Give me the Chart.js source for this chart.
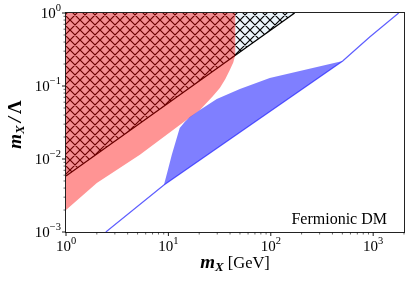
<!DOCTYPE html>
<html>
<head>
<meta charset="utf-8">
<script src="https://cdn.jsdelivr.net/npm/chart.js@4.4.0/dist/chart.umd.min.js"></script>
<style>
  html, body { margin:0; padding:0; background:#fff; }
  #wrap { width:415px; height:283px; }
</style>
</head>
<body>
<div id="wrap"><canvas id="c" width="415" height="283"></canvas></div>
<script>
// red excluded region (lower edge, then up the right side and back along the top)
const redX = [1, 2, 5.27, 11.1, 20.3, 27, 31.8, 36, 39.8, 43, 44.8, 45, 1];
const redY = [0.002, 0.0047, 0.0114, 0.0249, 0.0469, 0.072, 0.094, 0.125, 0.166, 0.21, 0.26, 1, 1];
// hatched region above the black line
const hatchX = [1, 171, 1];
const hatchY = [0.00585, 1, 1];
const edgeX = [1, 171];
const edgeY = [0.00585, 1];
// blue band: upper edge, closed back to its start
const blueX = [9.04, 9.9, 10.8, 12.9, 14.5, 16.2, 20.3, 29.7, 49.9, 97.7, 504, 9.04];
const blueY = [0.0044, 0.0071, 0.0114, 0.0266, 0.0325, 0.0376, 0.0469, 0.0664, 0.091, 0.129, 0.22, 0.0044];
// blue line
const lineX = [2.45, 9.04, 504, 925, 1774];
const lineY = [0.001, 0.0044, 0.22, 0.47, 1];

// axes
const xMajor = [1, 10, 100, 1000];
const xExp = ['0', '1', '2', '3'];
const yMajor = [1, 0.1, 0.01, 0.001];
const yExp = ['0', '\u22121', '\u22122', '\u22123'];
const note = 'Fermionic DM';

const pts = (xs, ys) => xs.map((x, i) => ({ x, y: ys[i] }));

function minors(lo, hi) {
  const out = [];
  for (let d = lo; d < hi; d *= 10)
    for (let k = 2; k <= 9; k++) if (d * k <= hi * 1.0001) out.push(d * k);
  return out;
}

function hatchPattern(ctx) {
  const s = 10, c = document.createElement('canvas');
  c.width = c.height = s;
  const g = c.getContext('2d');
  g.fillStyle = '#ebf5fc';
  g.fillRect(0, 0, s, s);
  g.strokeStyle = '#000';
  g.lineWidth = 1.2;
  g.beginPath();
  for (const k of [-s, 0, s]) {
    g.moveTo(k - 2, -2); g.lineTo(k + s + 2, s + 2);          // x - y = k
    g.moveTo(k + s + 2, -2); g.lineTo(k - 2, s + 2);          // x + y = k + s
  }
  g.stroke();
  return ctx.createPattern(c, 'repeat');
}

const SERIF = '"Liberation Serif", "DejaVu Serif", serif';

const decor = {
  id: 'decor',
  afterDraw(chart) {
    const { ctx, chartArea: a, scales: { x, y } } = chart;
    ctx.save();
    ctx.strokeStyle = '#222';
    ctx.lineWidth = 1;
    ctx.strokeRect(Math.round(a.left) - 0.5, Math.round(a.top) - 0.5,
      Math.round(a.right - a.left) + 1, Math.round(a.bottom - a.top) + 1);

    // tick marks
    const bx = Math.round(a.bottom) + 0.5, lx = Math.round(a.left) - 0.5;
    ctx.strokeStyle = '#000';
    ctx.beginPath();
    xMajor.forEach(v => { const p = x.getPixelForValue(v); ctx.moveTo(p, bx); ctx.lineTo(p, bx + 3.5); });
    yMajor.forEach(v => { const p = y.getPixelForValue(v); ctx.moveTo(lx, p); ctx.lineTo(lx - 3.5, p); });
    ctx.lineWidth = 0.9; ctx.stroke();
    ctx.beginPath();
    minors(1, 2000).forEach(v => { const p = x.getPixelForValue(v); ctx.moveTo(p, bx); ctx.lineTo(p, bx + 2); });
    minors(0.001, 1).forEach(v => { const p = y.getPixelForValue(v); ctx.moveTo(lx, p); ctx.lineTo(lx - 2, p); });
    ctx.lineWidth = 0.6; ctx.stroke();

    // tick labels 10^n
    const base = '15px ' + SERIF, sup = '10.5px ' + SERIF;
    ctx.fillStyle = '#000';
    ctx.textBaseline = 'middle';
    ctx.textAlign = 'left';
    const measure = (e) => {
      ctx.font = base; const wb = ctx.measureText('10').width;
      ctx.font = sup; const we = ctx.measureText(e).width;
      return [wb, we];
    };
    const put = (e, x0, yc) => {
      const [wb] = measure(e);
      ctx.font = base; ctx.fillText('10', x0, yc);
      ctx.font = sup; ctx.fillText(e, x0 + wb, yc - 6);
    };
    xMajor.forEach((v, i) => {
      const [wb, we] = measure(xExp[i]);
      put(xExp[i], x.getPixelForValue(v) - (wb + we) / 2, a.bottom + 15);
    });
    yMajor.forEach((v, i) => {
      const [wb, we] = measure(yExp[i]);
      put(yExp[i], a.left - 5 - (wb + we), y.getPixelForValue(v) + 1);
    });

    // x title
    ctx.textBaseline = 'alphabetic';
    const mF = 'italic bold 19px ' + SERIF, sF = 'italic bold 13px ' + SERIF, gF = '16.5px ' + SERIF;
    ctx.font = mF; const wm = ctx.measureText('m').width;
    ctx.font = sF; const wx = ctx.measureText('X').width;
    ctx.font = gF; const wg = ctx.measureText(' [GeV]').width;
    let tx = (a.left + a.right) / 2 - (wm + wx + wg) / 2, ty = 268;
    ctx.font = mF; ctx.fillText('m', tx, ty);
    ctx.font = sF; ctx.fillText('X', tx + wm, ty + 3);
    ctx.font = gF; ctx.fillText(' [GeV]', tx + wm + wx, ty);

    // y title
    ctx.save();
    ctx.translate(21, (a.top + a.bottom) / 2 + 2);
    ctx.rotate(-Math.PI / 2);
    const lF = 'bold 19px ' + SERIF, slF = 'italic bold 19px ' + SERIF;
    const gap = 3;
    ctx.font = slF; const ws = ctx.measureText('/').width;
    ctx.font = lF; const wl = ctx.measureText('\u039B').width;
    tx = -(wm + wx + ws + wl + 2 * gap) / 2;
    ctx.font = mF; ctx.fillText('m', tx, 0);
    ctx.font = sF; ctx.fillText('X', tx + wm, 3);
    ctx.font = slF; ctx.fillText('/', tx + wm + wx + gap, 0);
    ctx.font = lF; ctx.fillText('\u039B', tx + wm + wx + ws + 2 * gap, 0);
    ctx.restore();

    // note
    ctx.font = '16px ' + SERIF;
    ctx.textAlign = 'right';
    ctx.fillText(note, a.right - 17, a.bottom - 8);
    ctx.restore();
  }
};

const ctx = document.getElementById('c').getContext('2d');
new Chart(ctx, {
  type: 'scatter',
  data: {
    datasets: [
      { data: pts(lineX, lineY), showLine: true, borderColor: 'rgba(40,40,255,0.75)', borderWidth: 1.2, pointRadius: 0, fill: false, order: 0 },
      { data: pts(blueX, blueY), showLine: true, borderWidth: 0, borderColor: 'rgba(0,0,0,0)', backgroundColor: 'rgba(0,0,255,0.5)', pointRadius: 0, fill: 'shape', order: 1 },
      { data: pts(redX, redY), showLine: true, borderWidth: 0, borderColor: 'rgba(0,0,0,0)', backgroundColor: 'rgba(255,0,0,0.42)', pointRadius: 0, fill: 'shape', order: 2 },
      { data: pts(edgeX, edgeY), showLine: true, borderColor: '#000', borderWidth: 1.3, pointRadius: 0, fill: false, order: 3 },
      { data: pts(hatchX, hatchY), showLine: true, borderWidth: 0, borderColor: 'rgba(0,0,0,0)', backgroundColor: hatchPattern(ctx), pointRadius: 0, fill: 'shape', order: 4 }
    ]
  },
  options: {
    responsive: false,
    animation: false,
    layout: { padding: { left: 66, right: 11, top: 13, bottom: 51 } },
    plugins: { legend: { display: false }, tooltip: { enabled: false } },
    scales: {
      x: { type: 'logarithmic', min: 1, max: 2000, ticks: { display: false }, grid: { display: false }, border: { display: false },
           afterFit: s => { s.height = 0; } },
      y: { type: 'logarithmic', min: 0.001, max: 1, ticks: { display: false }, grid: { display: false }, border: { display: false },
           afterFit: s => { s.width = 0; } }
    }
  },
  plugins: [decor]
});
</script>
</body>
</html>
